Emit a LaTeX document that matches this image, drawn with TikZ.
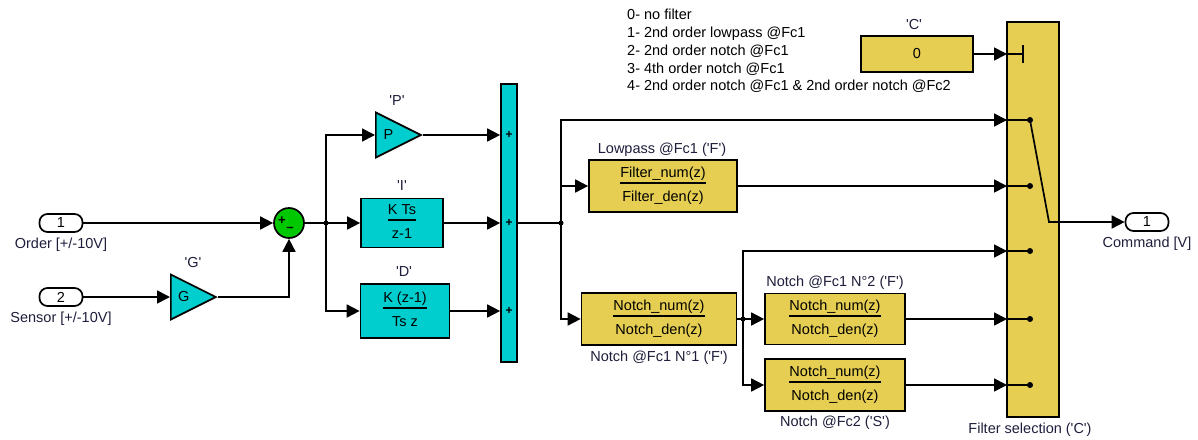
\documentclass[tikz,border=0pt]{standalone}
\usepackage{fontspec}
\setmainfont{Liberation Sans}
\usetikzlibrary{arrows.meta,shapes.geometric,positioning}
\definecolor{simcyan}{RGB}{0,206,206}
\definecolor{simyellow}{RGB}{230,206,82}
\definecolor{simgreen}{RGB}{0,200,0}
\definecolor{lbltext}{RGB}{30,30,60}
\newcommand{\blkfrac}[2]{{\setlength{\arrayrulewidth}{1.6pt}\begin{tabular}{@{}c@{}}#1\\[-1pt]\hline\rule{0pt}{18pt}#2\end{tabular}}}
\newcommand{\qt}[1]{\textquotesingle#1\textquotesingle}
\begin{document}
\begin{tikzpicture}[x=1pt,y=-1pt,font=\fontsize{14.5}{17.8}\selectfont,
  wire/.style={line width=1.7pt},
  sig/.style={wire,-{Triangle[length=13pt,width=13pt]}},
  port/.style={draw,line width=1.7pt,rounded corners=8pt,minimum width=43pt,minimum height=18pt,inner sep=0pt},
  cyanblk/.style={draw,line width=1.7pt,fill=simcyan,inner sep=0pt},
  yelblk/.style={draw,line width=1.7pt,fill=simyellow,inner sep=0pt},
  gain/.style={draw,line width=1.7pt,fill=simcyan,isosceles triangle,isosceles triangle stretches,
    minimum width=45pt,minimum height=45pt,inner sep=0pt,anchor=west},
  dot/.style={circle,fill,inner sep=0pt,minimum size=5pt},
  sgn/.style={inner sep=0pt,font=\fontsize{13}{13}\selectfont\bfseries},
  lbl/.style={inner sep=1pt,text=lbltext}]
\useasboundingbox (0,0) rectangle (1198,439);

% inputs
\node[port] (in1) at (61,223) {1};
\node[lbl,below=4pt of in1] (in1lbl) {Order [+/-10V]};
\node[port] (in2) at (61,297) {2};
\node[lbl,below=4pt of in2] (in2lbl) {Sensor [+/-10V]};

% sensor gain and error sum
\node[gain] (G) at (170,297) {G\hspace{14pt}};
\node[lbl] (Glbl) at (193,263) {\qt{G}};
\node[circle,draw,line width=1.7pt,fill=simgreen,minimum size=30pt,inner sep=0pt] (sum) at (289,223) {};
\node[sgn] (sumplus) at (282,221) {+};
\node[sgn] (summinus) at (290,229) {--};
\draw[sig] (in1) -- (sum);
\draw[sig] (in2) -- (G.west);
\draw[sig] (G.east) -| (sum.south);

% PID branches
\coordinate (s1) at (326,223);
\node[gain] (P) at (375,135) {P\hspace{14pt}};
\node[lbl] (Plbl) at (397,101) {\qt{P}};
\node[cyanblk,minimum width=82pt,minimum height=49pt] (I) at (402,223) {\blkfrac{K Ts}{z-1}};
\node[lbl] (Ilbl) at (402,186) {\qt{I}};
\node[cyanblk,minimum width=89pt,minimum height=54pt] (D) at (405,311) {\blkfrac{K (z-1)}{Ts z}};
\node[lbl] (Dlbl) at (404,272) {\qt{D}};
\node[cyanblk,minimum width=16pt,minimum height=278pt] (mux) at (509,223) {};
\foreach \y [count=\i] in {135,223,311}
  \node[sgn,font=\fontsize{12}{12}\selectfont\bfseries] (muxplus\i) at (509,\y) {+};
\draw[wire] (sum) -- (s1);
\node[dot] (s1dot) at (s1) {};
\draw[sig] (s1) |- (P.west);
\draw[sig] (s1) -- (I);
\draw[sig] (s1) |- (D.west);
\draw[sig] (P.east) -- (P.east -| mux.west);
\draw[sig] (I) -- (I -| mux.west);
\draw[sig] (D) -- (D -| mux.west);

% filters
\coordinate (s2) at (561,223);
\coordinate (s3) at (743,319);
\node[yelblk,minimum width=148pt,minimum height=52pt] (lp) at (663,186) {\blkfrac{Filter\_num(z)}{Filter\_den(z)}};
\node[lbl] (lplbl) at (662,150) {Lowpass @Fc1 (\qt{F})};
\node[yelblk,minimum width=155pt,minimum height=52pt] (n1) at (659,319) {\blkfrac{Notch\_num(z)}{Notch\_den(z)}};
\node[lbl] (n1lbl) at (659,358) {Notch @Fc1 N°1 (\qt{F})};
\node[yelblk,minimum width=140pt,minimum height=51pt] (n2) at (835,319) {\blkfrac{Notch\_num(z)}{Notch\_den(z)}};
\node[lbl] (n2lbl) at (835,283) {Notch @Fc1 N°2 (\qt{F})};
\node[yelblk,minimum width=140pt,minimum height=52pt] (n3) at (835,385) {\blkfrac{Notch\_num(z)}{Notch\_den(z)}};
\node[lbl] (n3lbl) at (835,423) {Notch @Fc2 (\qt{S})};
\draw[wire] (mux) -- (s2);
\node[dot] (s2dot) at (s2) {};
\draw[sig] (s2 |- lp.west) -- (lp.west);
\draw[sig] (s2) |- (n1.west);
\draw[wire] (n1.east) -- (s3);
\node[dot] (s3dot) at (s3) {};
\draw[sig] (s3) -- (n2.west);
\draw[sig] (s3) |- (n3.west);

% filter selection switch
\node[lbl,anchor=north west,align=left,inner sep=0pt,text=black] (legend) at (627,9)
  {0- no filter\\1- 2nd order lowpass @Fc1\\2- 2nd order notch @Fc1\\3- 4th order notch @Fc1\\4- 2nd order notch @Fc1 \& 2nd order notch @Fc2};
\node[yelblk,minimum width=112pt,minimum height=36pt] (C) at (917,54) {0};
\node[lbl] (Clbl) at (914,25) {\qt{C}};
\node[yelblk,minimum width=52pt,minimum height=395pt] (sw) at (1033,219.5) {};
\node[lbl] (swlbl) at (1030,430) {Filter selection (\qt{C})};
\coordinate (swc) at (1007,54);
\coordinate (swout) at (1059,222);
\foreach \y [count=\i] in {120,186,251,319,385} {
  \coordinate (sw\i) at (1007,\y);
  \draw[wire] (sw\i) -- ++(23,0) node[dot,minimum size=6pt] (swdot\i) {};
}
\draw[wire] (swc) -- ++(16,0) coordinate (swtick);
\draw[wire] ([yshift=-9pt]swtick) -- ([yshift=9pt]swtick);
\draw[wire] (swdot1.center) -- (1049,222) -- (swout);
\draw[sig] (C) -- (swc);
\draw[sig] (s2) |- (sw1);
\draw[sig] (lp) -- (sw2);
\draw[sig] (s3) |- (sw3);
\draw[sig] (n2) -- (sw4);
\draw[sig] (n3) -- (sw5);

% output
\node[port] (out) at (1147,222) {1};
\node[lbl,below=4pt of out] (outlbl) {Command [V]};
\draw[sig] (swout) -- (out);
\end{tikzpicture}
\end{document}
